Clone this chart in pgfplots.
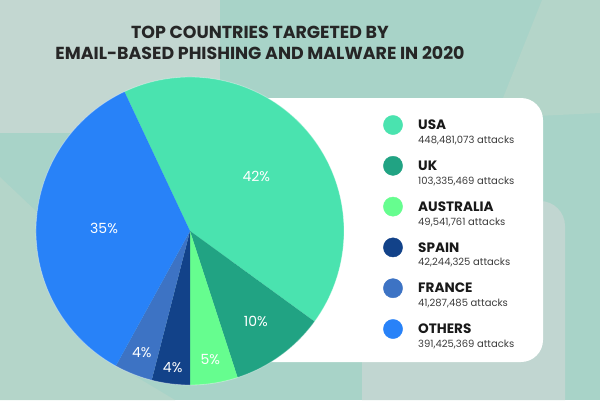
\documentclass[border=0pt]{standalone}
\usepackage{pgfplots}
\pgfplotsset{compat=1.18}
\usepackage{pgfplotstable}
\usepackage{fontspec}
\setmainfont{Poppins}
\definecolor{cUSA}{HTML}{4AE3AF}
\definecolor{cUK}{HTML}{21A383}
\definecolor{cAUS}{HTML}{66FD8F}
\definecolor{cESP}{HTML}{124289}
\definecolor{cFRA}{HTML}{3D73C4}
\definecolor{cOTH}{HTML}{2882F8}
\definecolor{bgTeal}{HTML}{A8D3C8}
\definecolor{bgGray}{HTML}{C3D7D1}
\definecolor{bgLight}{HTML}{B4D5C9}
\definecolor{bgLightB}{HTML}{C1D6D1}
\definecolor{titleC}{HTML}{262626}
\definecolor{numC}{HTML}{3C3C3C}
\newcommand\titlefont{\bfseries\fontsize{17.4}{21}\selectfont}
\newcommand\namefont{\bfseries\fontsize{13.6}{15}\selectfont}
\newcommand\numfont{\fontsize{10}{12}\selectfont}
\newcommand\pctfont{\fontsize{14}{16}\selectfont}

\pgfplotstableread[col sep=semicolon]{
name;attacks;pct;col;lr
USA;448,481,073;42;cUSA;86
UK;103,335,469;10;cUK;112
AUSTRALIA;49,541,761;5;cAUS;130
SPAIN;42,244,325;4;cESP;138
FRANCE;41,287,485;4;cFRA;131
OTHERS;391,425,369;35;cOTH;86
}\piedata

\begin{document}
\begin{tikzpicture}
\begin{axis}[hide axis, scale only axis, width=600pt, height=400pt,
  xmin=0, xmax=600, ymin=0, ymax=400, y dir=reverse, clip=false]
% background
\fill[bgTeal] (axis cs:0,0) rectangle (axis cs:600,400);
\fill[bgGray] (axis cs:0,0) rectangle (axis cs:220,133);
\fill[bgLight] (axis cs:0,177) -- (axis cs:130,300) -- (axis cs:100,355) -- (axis cs:175,400) -- (axis cs:0,400) -- cycle;
\fill[bgLight] (axis cs:542,0) -- (axis cs:600,0) -- (axis cs:600,113) -- (axis cs:495,118) -- cycle;
\fill[bgLightB] (axis cs:362,400) [rounded corners=25pt] -- (axis cs:362,201) -- (axis cs:565,201) [sharp corners] -- (axis cs:565,400) -- cycle;
\fill[white, rounded corners=22pt] (axis cs:230,98) rectangle (axis cs:543,362);
% title
\node[align=center, font=\titlefont, text=titleC] at (axis cs:260,43)
  {TOP COUNTRIES TARGETED BY\\EMAIL-BASED PHISHING AND MALWARE IN 2020};
% pie + legend
\xdef\aStart{115.2}
\pgfplotsinvokeforeach{0,...,5}{
  \pgfplotstablegetelem{#1}{pct}\of\piedata \let\pct\pgfplotsretval
  \pgfplotstablegetelem{#1}{col}\of\piedata \let\col\pgfplotsretval
  \pgfplotstablegetelem{#1}{lr}\of\piedata \let\lr\pgfplotsretval
  \pgfplotstablegetelem{#1}{name}\of\piedata \let\nm\pgfplotsretval
  \pgfplotstablegetelem{#1}{attacks}\of\piedata \let\att\pgfplotsretval
  \pgfmathsetmacro\aEnd{\aStart-3.6*\pct}
  \pgfmathsetmacro\aMid{(\aStart+\aEnd)/2}
  \pgfmathsetmacro\yy{125+40.8*#1}
  \pgfmathsetmacro\yn{\yy+4.7}
  \pgfmathsetmacro\yb{\yy+18.5}
  \edef\temp{
    \noexpand\fill[\col] (axis cs:190,231) -- ++(\aStart:154pt) arc[start angle=\aStart, end angle=\aEnd, radius=154pt] -- cycle;
    \noexpand\path (axis cs:190,231) ++(\aMid:\lr pt) node[text=white, font=\noexpand\pctfont] {\pct\noexpand\%};
    \noexpand\addplot[only marks, mark=*, mark size=9.6pt, color=\col] coordinates {(393,\yy)};
    \noexpand\node[anchor=base west, font=\noexpand\namefont, text=black!90, inner sep=0pt] at (axis cs:418,\yn) {\nm};
    \noexpand\node[anchor=base west, font=\noexpand\numfont, text=numC, inner sep=0pt] at (axis cs:418,\yb) {\att\space attacks};
  }
  \temp
  \xdef\aStart{\aEnd}
}
\draw[white, opacity=0.35, line width=0.8pt] (axis cs:190,231) circle[radius=154pt];
\end{axis}
\end{tikzpicture}
\end{document}
